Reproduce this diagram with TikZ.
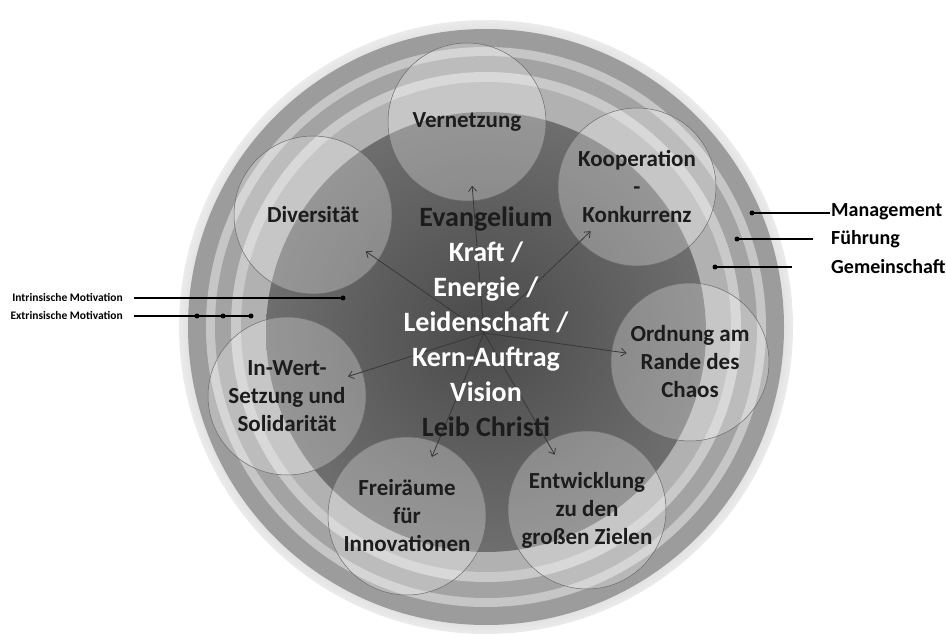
\documentclass[tikz,border=0pt]{standalone}
\usepackage{fontspec}
\setmainfont{Carlito}
\usetikzlibrary{shapes.geometric,arrows.meta}

\definecolor{ring0}{HTML}{D4D4D4}
\definecolor{ringedge}{HTML}{EBEBEB}
\definecolor{ring1}{HTML}{9C9C9C}
\definecolor{ring2}{HTML}{C6C6C6}
\definecolor{ring3}{HTML}{A3A3A3}
\definecolor{ring4}{HTML}{C9C9C9}
\definecolor{ring5}{HTML}{B1B1B1}
\definecolor{coredark}{HTML}{4A4A4A}
\definecolor{corerim}{HTML}{6E6E6E}
\definecolor{bubbleline}{HTML}{6A6A6A}
\definecolor{arrowgrey}{HTML}{383838}
\definecolor{inktext}{HTML}{1C1C1C}

\pgfdeclareradialshading{outerglow}{\pgfpoint{0bp}{0bp}}{color(0bp)=(ring0); color(23bp)=(ring0); color(25bp)=(ringedge); color(50bp)=(ringedge)}

\begin{document}
\begin{tikzpicture}[
            x=1pt, y=-1pt,
            bubble/.style={
                circle,
                draw=bubbleline,
                line width=0.5pt,
                fill=white,
                fill opacity=0.28,
                text opacity=1,
                minimum size=158pt,
                inner sep=0pt,
                align=center,
                text=inktext,
                font=\bfseries\fontsize{23}{28}\selectfont
            },
            core/.style={
                align=center,
                text=inktext,
                font=\bfseries\fontsize{28}{35}\selectfont
            },
            tag/.style={
                anchor=west,
                inner sep=1pt,
                font=\bfseries\fontsize{20}{22}\selectfont
            },
            motiv/.style={
                anchor=east,
                inner sep=1pt,
                font=\bfseries\fontsize{11.5}{13}\selectfont
            },
            dot/.style={circle, fill=black, inner sep=0pt, minimum size=5pt},
            lead/.style={line width=1.4pt, draw=black},
            arrow/.style={-{Straight Barb[length=5pt,width=8pt]}, line width=0.8pt, draw=arrowgrey, shorten >=64pt}
        ]
        \useasboundingbox (0,0) rectangle (946,636);

        % Rings from outside to inside
        \coordinate (ctr) at (486,327);
        \shade[shading=outerglow] (ctr) circle (307pt);
        \foreach \r/\c in {298/ring1, 280/ring2, 271/ring3, 255/ring4, 245/ring5}
            \fill[\c] (ctr) circle (\r pt);
        \shade[inner color=coredark, outer color=corerim] (486,332) circle (220pt);

        % Bubbles around the core
        \node[bubble] (vern) at (467,122) {Vernetzung};
        \node[bubble] (koop) at (637,187) {Kooperation\\-\\Konkurrenz};
        \node[bubble] (ordn) at (690,362) {Ordnung am\\Rande des\\Chaos};
        \node[bubble] (entw) at (587,510) {Entwicklung\\zu den\\großen Zielen};
        \node[bubble] (frei) at (407,516) {Freiräume\\für\\Innovationen};
        \node[bubble] (wert) at (287,396) {In-Wert-\\Setzung und\\Solidarität};
        \node[bubble] (div) at (313,215) {Diversität};

        % Arrows from the core
        \coordinate (hub) at (484,333);
        \foreach \n in {vern,koop,ordn,entw,frei,wert,div}
            \draw[arrow] (hub) -- (\n.center);

        % Core text
        \node[core] (core) at (486,322) {Evangelium\\
            \textcolor{white}{Kraft /}\\
            \textcolor{white}{Energie /}\\
            \textcolor{white}{Leidenschaft /}\\
            \textcolor{white}{Kern-Auftrag}\\
            \textcolor{white}{Vision}\\
            Leib Christi};

        % Labels on the right
        \node[tag] (mgmt) at (830,212) {Management};
        \node[tag] (fuehr) at (830,239) {Führung};
        \node[tag] (gem) at (830,267) {Gemeinschaft};
        \node[dot] (dm) at (752,213) {};
        \node[dot] (df) at (737,239) {};
        \node[dot] (dg) at (715,267) {};
        \draw[lead] (dm.center) -- (mgmt.west |- dm);
        \draw[lead, shorten >=17pt] (df.center) -- (fuehr.west |- df);
        \draw[lead, shorten >=38pt] (dg.center) -- (gem.west |- dg);

        % Labels on the left
        \node[motiv] (intr) at (124,298) {Intrinsische Motivation};
        \node[motiv] (extr) at (124,316) {Extrinsische Motivation};
        \node[dot] (di) at (343,298) {};
        \node[dot] (de1) at (197,316) {};
        \node[dot] (de2) at (223,316) {};
        \node[dot] (de3) at (251,316) {};
        \draw[lead, shorten <=10pt] (intr.east) -- (di.center);
        \draw[lead, shorten <=10pt] (extr.east) -- (de3.center);

        \end{tikzpicture}
\end{document}
